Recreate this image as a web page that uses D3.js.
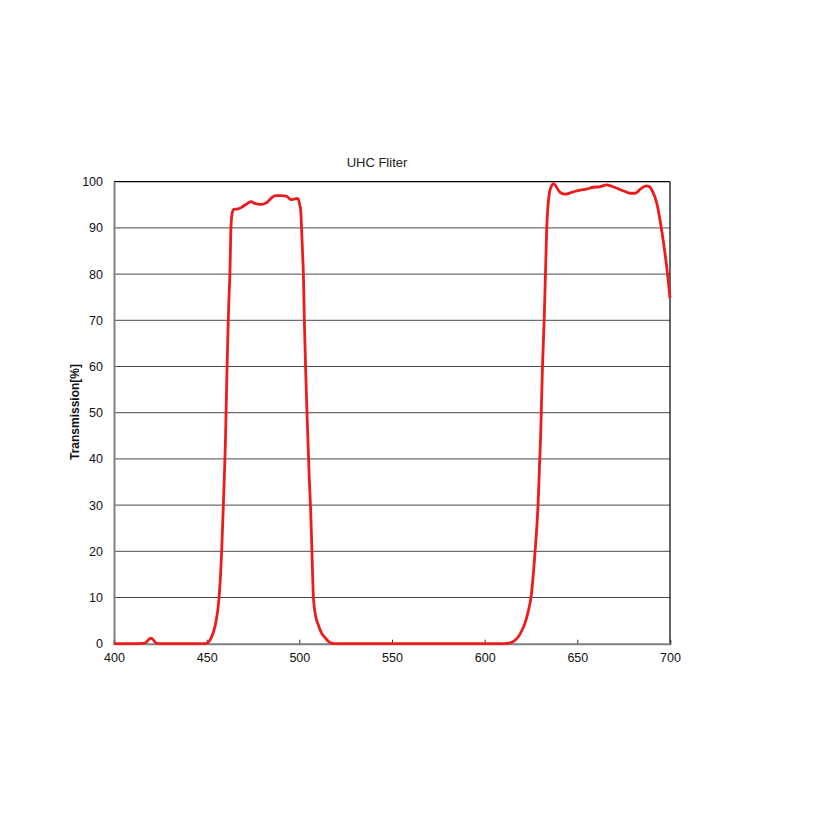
<!DOCTYPE html>
<html><head><meta charset="utf-8">
<script src="https://cdn.jsdelivr.net/npm/d3@7/dist/d3.min.js"></script>
<style>body{margin:0;background:#fff}svg{display:block}text{font-family:"Liberation Sans",Arial,sans-serif}</style>
</head><body><svg id="c" width="821" height="821"></svg>
<script>
const wavelengths = [400,405,410,415,417,419,420,421,423,425,430,440,448,450,451.5,452.7,454,454.9,456.7,458.1,459,460.2,461,461.8,462.6,463.1,463.7,464.6,467,469,472,474,476,479,482,485,487,490,493,495.5,497,498.8,499.5,500.2,500.7,501.2,501.7,502.2,502.7,503.5,504.3,505.4,506.1,506.8,507.6,508.8,510.3,512,513.9,516,518,520,540,560,580,600,610,612,614.6,616.5,618.2,620,621.8,623.5,625,627.2,628.8,630.2,631.2,632.1,632.8,633.5,634.9,636,637.1,638,639.5,641,643.4,647,651.5,655,658.7,662,665.9,668,671.3,675,678.5,681.2,684,687.1,689,690.2,692.9,695.5,698.2,700];
const transmission = [0,0,0,0.05,0.2,1.0,1.2,0.9,0.1,0,0,0,0,0.1,0.6,1.5,3,4.5,10,20,30,45,60,72,81,90,93,94,94.1,94.5,95.3,95.7,95.3,95.1,95.4,96.5,97,97,96.9,96.1,96.2,96.4,96.2,95,94,90,85,80,70,58,48,35.4,29,20,10,6,4,2.3,1.3,0.4,0.05,0,0,0,0,0,0,0.05,0.3,0.8,1.5,2.8,4.5,7,10,20,30,45,60,70,80,90,97.5,99,99.6,99.3,98.3,97.6,97.3,97.7,98.2,98.4,98.8,98.9,99.3,99.1,98.6,98,97.5,97.5,98.4,99.1,98.9,98.2,95.3,89.5,81.6,74.8];
const xTicks = [400,450,500,550,600,650,700];
const yTicks = [0,10,20,30,40,50,60,70,80,90,100];
const title = "UHC Fliter";
const yLabel = "Transmission[%]";

const svg = d3.select("#c");
const L=114, R=670, T=181.7, B=643.7;
const x = d3.scaleLinear().domain([400,700]).range([L,R]);
const y = d3.scaleLinear().domain([0,100]).range([B,T]);

// gridlines
svg.append("g").selectAll("line").data(yTicks.filter(v=>v>0&&v<100)).join("line")
  .attr("x1",L).attr("x2",R).attr("y1",d=>y(d)).attr("y2",d=>y(d))
  .attr("stroke","#4a4a4a").attr("stroke-width",1);
// top & right frame
svg.append("line").attr("x1",L).attr("x2",R).attr("y1",T).attr("y2",T).attr("stroke","#000").attr("stroke-width",1.2);
svg.append("line").attr("x1",R).attr("x2",R).attr("y1",T).attr("y2",B).attr("stroke","#000").attr("stroke-width",1.2);

// axes
const xa = svg.append("g").attr("transform",`translate(0,${B})`)
  .call(d3.axisBottom(x).tickValues(xTicks).tickSize(-4).tickPadding(9).tickFormat(d3.format("d")));
xa.select(".domain").attr("stroke","#808080").attr("stroke-width",2);
xa.selectAll(".tick line").attr("stroke","#333");
xa.selectAll("text").attr("font-size",12.5).attr("fill","#111");
const ya = svg.append("g").attr("transform",`translate(${L},0)`)
  .call(d3.axisLeft(y).tickValues(yTicks).tickSize(0).tickPadding(11).tickFormat(d3.format("d")));
ya.select(".domain").attr("stroke","#808080").attr("stroke-width",2);
ya.selectAll("text").attr("font-size",12.5).attr("fill","#111");

// curve
const data = wavelengths.map((w,i)=>[w,transmission[i]]);
svg.append("path").datum(data)
  .attr("d",d3.line().x(d=>x(d[0])).y(d=>y(d[1])).curve(d3.curveMonotoneX))
  .attr("fill","none").attr("stroke","#ec1c1c").attr("stroke-width",2.8).attr("stroke-linejoin","round");

svg.append("text").attr("x",377).attr("y",167).attr("text-anchor","middle").attr("font-size",13).attr("fill","#222").text(title);
svg.append("text").attr("transform",`translate(79,412) rotate(-90)`).attr("text-anchor","middle")
  .attr("font-size",12).attr("font-weight","bold").attr("fill","#111").text(yLabel);
</script></body></html>
